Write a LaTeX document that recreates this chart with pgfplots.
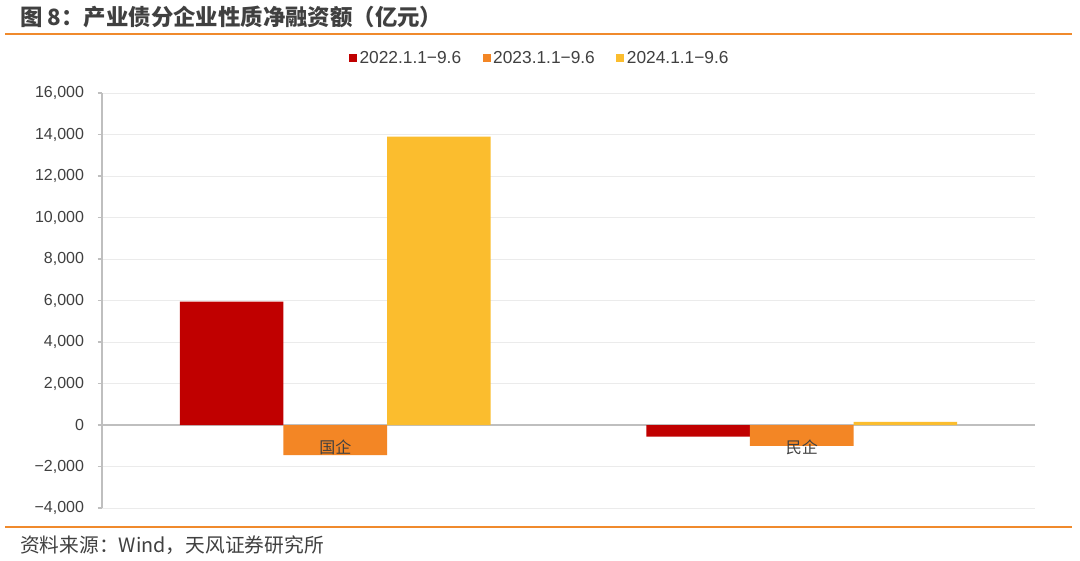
\documentclass[border=0pt]{standalone}
\usepackage{pgfplots}
\pgfplotsset{compat=1.18}
\usepackage{fontspec}
\setmainfont{Liberation Sans}
\newfontfamily\cjk{Noto Sans CJK SC}

\definecolor{cA}{RGB}{192,0,0}
\definecolor{cB}{RGB}{243,134,37}
\definecolor{cC}{RGB}{251,189,46}
\definecolor{rule}{RGB}{240,138,44}
\definecolor{txt}{RGB}{64,64,64}
\definecolor{gridc}{RGB}{235,235,235}
\definecolor{axisc}{RGB}{191,191,191}

\begin{document}
\begin{tikzpicture}
% canvas: 1080 x 560 px at 0.75pt per px
\path[use as bounding box, fill=white] (0pt,0pt) rectangle (810pt,-420pt);

% title and rules
\node[anchor=west, text=txt, inner sep=0pt] at (15pt,-12.75pt)
  {\cjk\bfseries\fontsize{16.8pt}{20pt}\selectfont 图 8：产业债分企业性质净融资额（亿元）};
\draw[rule, line width=1.1pt] (3.75pt,-25.5pt) -- (804pt,-25.5pt);
\draw[rule, line width=1.1pt] (3.75pt,-395.25pt) -- (804pt,-395.25pt);
\node[anchor=west, text=txt, inner sep=0pt] at (15pt,-408.75pt)
  {\cjk\fontsize{14.8pt}{16pt}\selectfont 资料来源：Wind，天风证券研究所};

\begin{axis}[
  at={(76.5pt,-381pt)}, anchor=south west,
  width=699.75pt, height=311.25pt, scale only axis,
  xmin=-0.5, xmax=1.5, ymin=-4000, ymax=16000,
  axis x line*=middle, axis y line*=left,
  axis line style={-, axisc, line width=0.8pt},
  ybar=0pt, bar width=0.222,
  xtick=\empty,
  scaled y ticks=false,
  ytick={-4000,-2000,0,2000,4000,6000,8000,10000,12000,14000,16000},
  yticklabels={{−4,000},{−2,000},{0},{2,000},{4,000},{6,000},{8,000},{10,000},{12,000},{14,000},{16,000}},
  y tick label style={font=\fontsize{12pt}{14pt}\selectfont, text=txt, xshift=-7pt},
  major y tick style={axisc, line width=0.8pt},
  tick align=outside, major tick length=3pt,
  ymajorgrids, grid style={gridc, line width=0.7pt},
  legend columns=3,
  legend style={at={(0.4695,1.084)}, anchor=center, draw=none, fill=none,
    font=\fontsize{13pt}{15pt}\selectfont, text=txt,
    /tikz/every even column/.append style={column sep=14pt}},
  legend image code/.code={\fill[#1, draw=none] (0pt,-3pt) rectangle (6pt,3pt);},
]
\addplot[fill=cA, draw=none, bar shift=-0.222] coordinates {(0,5950) (1,-560)};
\addplot[fill=cB, draw=none, bar shift=0] coordinates {(0,-1450) (1,-1000)};
\addplot[fill=cC, draw=none, bar shift=0.222] coordinates {(0,13900) (1,150)};
\legend{2022.1.1−9.6, 2023.1.1−9.6, 2024.1.1−9.6}
% category names sit just under the zero line, over the bars
\node[text=txt, font=\cjk\fontsize{12pt}{14pt}\selectfont, anchor=center]
  at ([yshift=-16.5pt]axis cs:0,0) {国企};
\node[text=txt, font=\cjk\fontsize{12pt}{14pt}\selectfont, anchor=center]
  at ([yshift=-16.5pt]axis cs:1,0) {民企};
\end{axis}
\end{tikzpicture}
\end{document}
